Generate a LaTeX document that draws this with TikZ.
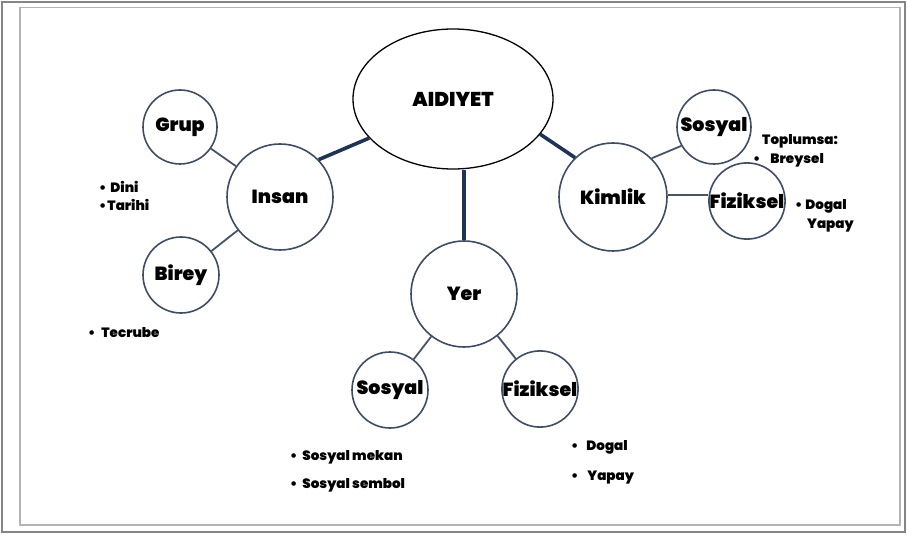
\documentclass[tikz,border=0pt]{standalone}
\usepackage{fontspec}
\setmainfont{Poppins}[BoldFont={Poppins Black}]
\usetikzlibrary{shapes.geometric}
\definecolor{framegray}{HTML}{858585}
\definecolor{innergray}{HTML}{B4B4B4}
\definecolor{bubc}{HTML}{3E4D66}
\definecolor{thinc}{HTML}{46536A}
\definecolor{thickc}{HTML}{1E3358}
\begin{document}
\begin{tikzpicture}[x=1pt,y=-1pt,
  bub/.style={circle, draw=bubc, line width=1.6pt, inner sep=0pt, fill=white,
    font=\bfseries\fontsize{19}{22}\selectfont},
  note/.style={anchor=west, inner sep=0pt, font=\bfseries\fontsize{13.5}{16}\selectfont},
  thinline/.style={draw=thinc, line width=1.8pt},
  thickline/.style={draw=thickc, line width=3.6pt}]
\useasboundingbox (0,0) rectangle (907,537);
\draw[framegray, line width=2.5pt] (2,2) rectangle (905,532);
\draw[innergray, line width=1.5pt] (20,7.5) rectangle (900,525);

\node[ellipse, draw=black, line width=1.3pt, minimum width=200pt, minimum height=140pt,
  inner sep=0pt, fill=white, font=\bfseries\fontsize{20}{24}\selectfont] (ell) at (453,99) {AIDIYET};

\node[bub, minimum size=106pt] (insan) at (280,197) {Insan};
\node[bub, minimum size=74pt] (grup) at (180,127) {Grup};
\node[bub, minimum size=76pt] (birey) at (181,275) {Birey};
\node[bub, minimum size=108pt] (kimlik) at (613,197) {Kimlik};
\node[bub, minimum size=74pt] (ksos) at (714,127) {Sosyal};
\node[bub, minimum size=74pt] (kfiz) at (747,201) {Fiziksel};
\node[bub, minimum size=106pt] (yer) at (464,294) {Yer};
\node[bub, minimum size=76pt] (ysos) at (390,390) {Sosyal};
\node[bub, minimum size=74pt] (yfiz) at (540,389) {Fiziksel};

\draw[thickline] (insan.44) -- (ell.205.7);
\draw[thickline] (kimlik.134) -- (ell.-22.5);
\draw[thickline] (yer.north) -- (yer.north |- ell.south);

\draw[thinline] (grup) -- (insan);
\draw[thinline] (birey) -- (insan);
\draw[thinline] (kimlik.45) -- (ksos.210);
\draw[thinline, line width=2.6pt] (kimlik.2) -- (kimlik.2 -| kfiz.west);

\draw[thinline] (yer) -- (ysos);
\draw[thinline] (yer) -- (yfiz);

\node[note] (dini) at (99,187) {•\hspace{4pt}Dini};
\node[note] (tarihi) at (99,205) {•\hspace{1pt}Tarihi};
\node[note] (tecrube) at (88,333) {•\hspace{6pt}Tecrube};
\node[note] (toplumsa) at (762,141) {Toplumsa:};
\node[note] (breysel) at (753,160) {•\hspace{10pt}Breysel};
\node[note] (kdogal) at (795,206) {•\hspace{3pt}Dogal};
\node[note] (kyapay) at (807,226) {Yapay};
\node[note] (smekan) at (290,457) {•\hspace{5pt}Sosyal mekan};
\node[note] (ssembol) at (290,485) {•\hspace{5pt}Sosyal sembol};
\node[note] (ydogal) at (571,447) {•\hspace{8pt}Dogal};
\node[note] (yyapay) at (571,478) {•\hspace{9pt}Yapay};
\end{tikzpicture}
\end{document}
